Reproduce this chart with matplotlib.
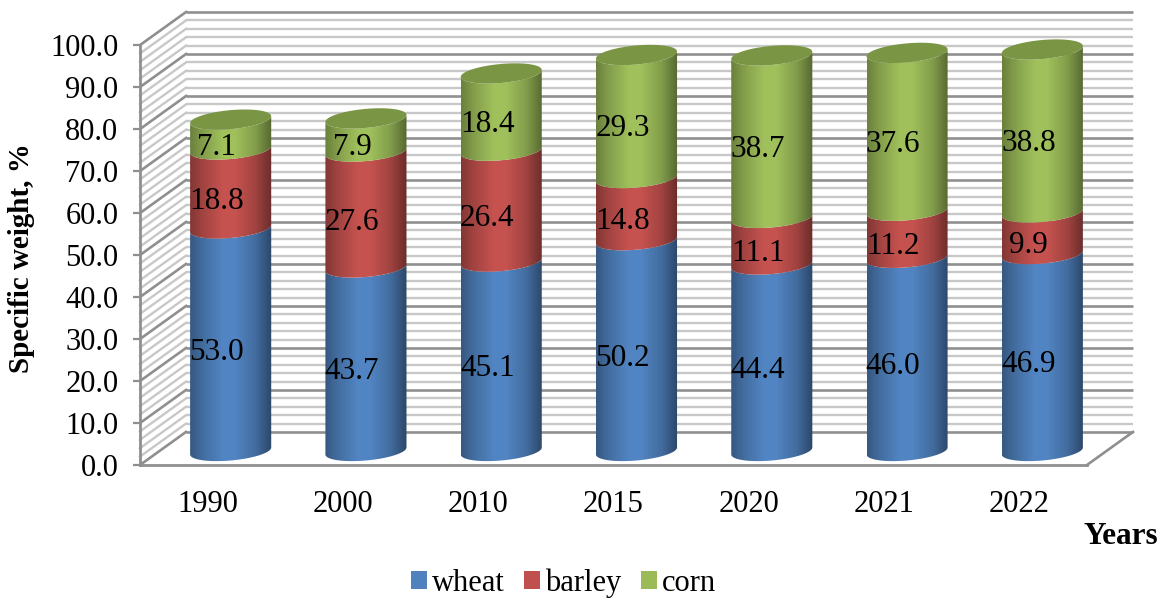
import matplotlib
matplotlib.use("Agg")
import matplotlib.pyplot as plt
from matplotlib.patches import PathPatch, Rectangle
from matplotlib.path import Path
import numpy as np

plt.rcParams['font.family'] = ['Liberation Serif', 'DejaVu Serif']

years = ['1990', '2000', '2010', '2015', '2020', '2021', '2022']
wheat = [53.0, 43.7, 45.1, 50.2, 44.4, 46.0, 46.9]
barley = [18.8, 27.6, 26.4, 14.8, 11.1, 11.2, 9.9]
corn = [7.1, 7.9, 18.4, 29.3, 38.7, 37.6, 38.8]
series_names = ['wheat', 'barley', 'corn']
series_colors = ['#4f81bd', '#c0504d', '#9bbb59']
cap_color = '#7a9645'

W, H = 1159, 598
x_left, x_right = 140, 1133
y_zero, y_top = 465, 12
px_x = (1086 - 140) / 7.0          # pixels per category
px_y = (465 - 46) / 100.0          # pixels per percent

# fake 3d box, depth of the walls in data units
depth_x = 46 / px_x
depth_y = 33 / px_y

# cylinder geometry in data units
half_w = 40.5 / px_x
shift_x = 0.5 + 23 / px_x
shift_y = 14 / px_y
ell_b = 9.5 / px_y
ell_s = 3.5 / px_y

major = '#8f8f8f'
minor = '#c8c8c8'

fig = plt.figure(figsize=(W / 100, H / 100), dpi=100)
ax = fig.add_axes([x_left / W, 1 - y_zero / H, (x_right - x_left) / W, (y_zero - y_top) / H])
ax.patch.set_visible(False)


def front_arc(cx, y, n=60):
    # lower half of the sheared ellipse, going left to right
    t = np.linspace(np.pi, 2 * np.pi, n)
    return cx + half_w * np.cos(t), y + ell_b * np.sin(t) + ell_s * np.cos(t)


def cylinder_part(cx, y0, y1, color):
    xa, ya = front_arc(cx, y0)
    xb, yb = front_arc(cx, y1)
    verts = np.vstack([np.c_[xa, ya], np.c_[xb, yb][::-1], [[xa[0], ya[0]]]])
    patch = PathPatch(Path(verts), fc='none', ec='none', zorder=3)
    ax.add_patch(patch)
    # shading across the width of the cylinder
    shade = np.interp(np.linspace(0, 1, 200), [0, 0.15, 0.4, 0.55, 0.8, 1],
                      [0.68, 0.84, 1.03, 1.03, 0.84, 0.55])
    rgb = np.array(matplotlib.colors.to_rgb(color))
    img = np.clip(shade[None, :, None] * rgb[None, None, :], 0, 1)
    im = ax.imshow(img, extent=[cx - half_w, cx + half_w, y0 - 5, y1 + 5],
                   aspect='auto', zorder=3, interpolation='bilinear')
    im.set_clip_path(patch)


# back wall and left wall grid, minor lines first
for v in range(0, 101, 2):
    is_major = v % 10 == 0
    c = major if is_major else minor
    lw = 1.9 if is_major else 1.7
    z = 1.2 if is_major else 1
    ax.plot([depth_x, 7 + depth_x], [v + depth_y, v + depth_y], color=c, lw=lw, zorder=z,
            solid_capstyle='butt', clip_on=False)
    ax.plot([0, depth_x], [v, v + depth_y], color=c, lw=lw, zorder=z, clip_on=False)

# right edge of the floor
ax.plot([7, 7 + depth_x], [0, depth_y], color=major, lw=1.9, zorder=1.2, clip_on=False)

for i in range(len(years)):
    cx = i + shift_x
    base = 0
    for vals, color in zip([wheat, barley, corn], series_colors):
        top = base + vals[i]
        cylinder_part(cx, base + shift_y, top + shift_y, color)
        ax.annotate('%.1f' % vals[i], (cx, base + vals[i] / 2 + shift_y),
                    xytext=(-10, -9), textcoords='offset points', ha='center', va='center',
                    fontsize=22.5, color='black', zorder=6)
        base = top
    # top cap
    t = np.linspace(0, 2 * np.pi, 120)
    ax.fill(cx + half_w * np.cos(t), base + shift_y + ell_b * np.sin(t) + ell_s * np.cos(t),
            color=cap_color, lw=0, zorder=4)

ax.set_xlim(0, 7 + depth_x)
ax.set_ylim(0, 100 + depth_y)

for side in ['top', 'right']:
    ax.spines[side].set_visible(False)
ax.spines['left'].set_bounds(0, 100)
ax.spines['bottom'].set_bounds(0, 7)
for side in ['left', 'bottom']:
    ax.spines[side].set_color(major)
    ax.spines[side].set_linewidth(2)

ax.set_yticks(np.arange(0, 101, 10))
ax.set_yticklabels(['%.1f' % v for v in np.arange(0, 101, 10)])
ax.set_xticks(np.arange(7) + 0.5)
ax.set_xticklabels(years)
ax.tick_params(axis='y', length=5, width=1.6, color=major, pad=10.5, labelsize=22)
ax.tick_params(axis='x', length=0, pad=18, labelsize=22)

fig.text(22 / W, 1 - 258 / H, 'Specific weight, %', rotation=90, ha='center', va='center',
         fontsize=21, fontweight='bold')
fig.text(1120.5 / W, 1 - 537 / H, 'Years', ha='center', va='center', fontsize=22.5, fontweight='bold')

handles = [Rectangle((0, 0), 1, 1, fc=c, ec='none') for c in series_colors]
fig.legend(handles, series_names, loc='center', bbox_to_anchor=(563.5 / W, 1 - 583 / H), ncol=3,
           frameon=False, fontsize=22, handlelength=0.53, handleheight=0.53, handletextpad=0.17,
           columnspacing=0.62, borderpad=0, borderaxespad=0)

fig.savefig('out.png', dpi=100)
